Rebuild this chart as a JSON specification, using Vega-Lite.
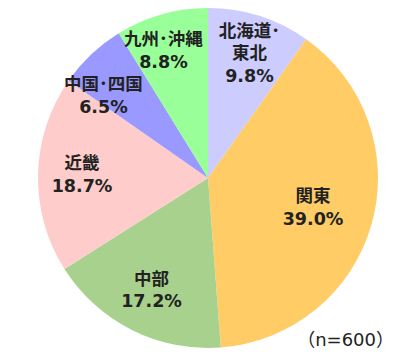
{
  "$schema": "https://vega.github.io/schema/vega-lite/v6.json",
  "width": 384,
  "height": 340,
  "autosize": "none",
  "padding": {"left": 16, "top": 8, "right": 0, "bottom": 7},
  "background": "white",
  "view": {"stroke": null},
  "config": {
    "text": {
      "font": "DejaVu Sans, Noto Sans CJK JP",
      "fontSize": 17.5,
      "fontWeight": "bold",
      "lineHeight": 22.5,
      "color": "#222222",
      "align": "center",
      "baseline": "middle"
    }
  },
  "title": {
    "text": "（n=600）",
    "orient": "bottom",
    "anchor": "end",
    "offset": -16,
    "dx": -6,
    "font": "DejaVu Sans, Noto Sans CJK JP",
    "fontSize": 18,
    "fontWeight": "normal",
    "color": "#222222"
  },
  "data": {
    "values": [
      {"rank": 1, "region": "北海道・東北", "label": ["北海道･", "東北", "9.8%"], "pct": 9.8},
      {"rank": 2, "region": "関東", "label": ["関東", "39.0%"], "pct": 39.0},
      {"rank": 3, "region": "中部", "label": ["中部", "17.2%"], "pct": 17.2},
      {"rank": 4, "region": "近畿", "label": ["近畿", "18.7%"], "pct": 18.7},
      {"rank": 5, "region": "中国・四国", "label": ["中国･四国", "6.5%"], "pct": 6.5},
      {"rank": 6, "region": "九州・沖縄", "label": ["九州･沖縄", "8.8%"], "pct": 8.8}
    ]
  },
  "encoding": {
    "theta": {"field": "pct", "type": "quantitative", "stack": true},
    "order": {"field": "rank", "type": "quantitative"}
  },
  "layer": [
    {
      "mark": {"type": "arc", "outerRadius": 170, "stroke": null},
      "encoding": {
        "color": {
          "field": "region",
          "type": "nominal",
          "legend": null,
          "scale": {
            "domain": ["北海道・東北", "関東", "中部", "近畿", "中国・四国", "九州・沖縄"],
            "range": ["#CCCCFF", "#FFCC66", "#A9D18E", "#FFCCCC", "#9999FF", "#99FF99"]
          }
        }
      }
    },
    {
      "mark": {"type": "text", "radius": 130, "dx": 2, "dy": -22.5},
      "encoding": {
        "text": {"condition": {"test": "datum.rank === 1", "field": "label"}, "value": ""}
      }
    },
    {
      "mark": {"type": "text", "radius": 109, "dy": -10},
      "encoding": {
        "text": {"condition": {"test": "datum.rank === 2", "field": "label"}, "value": ""}
      }
    },
    {
      "mark": {"type": "text", "radius": 126, "dy": -11},
      "encoding": {
        "text": {"condition": {"test": "datum.rank === 3 || datum.rank === 4", "field": "label"}, "value": ""}
      }
    },
    {
      "mark": {"type": "text", "radius": 126, "dx": -18, "dy": -1},
      "encoding": {
        "text": {"condition": {"test": "datum.rank === 5", "field": "label"}, "value": ""}
      }
    },
    {
      "mark": {"type": "text", "radius": 134, "dx": -8, "dy": -9},
      "encoding": {
        "text": {"condition": {"test": "datum.rank === 6", "field": "label"}, "value": ""}
      }
    }
  ]
}
